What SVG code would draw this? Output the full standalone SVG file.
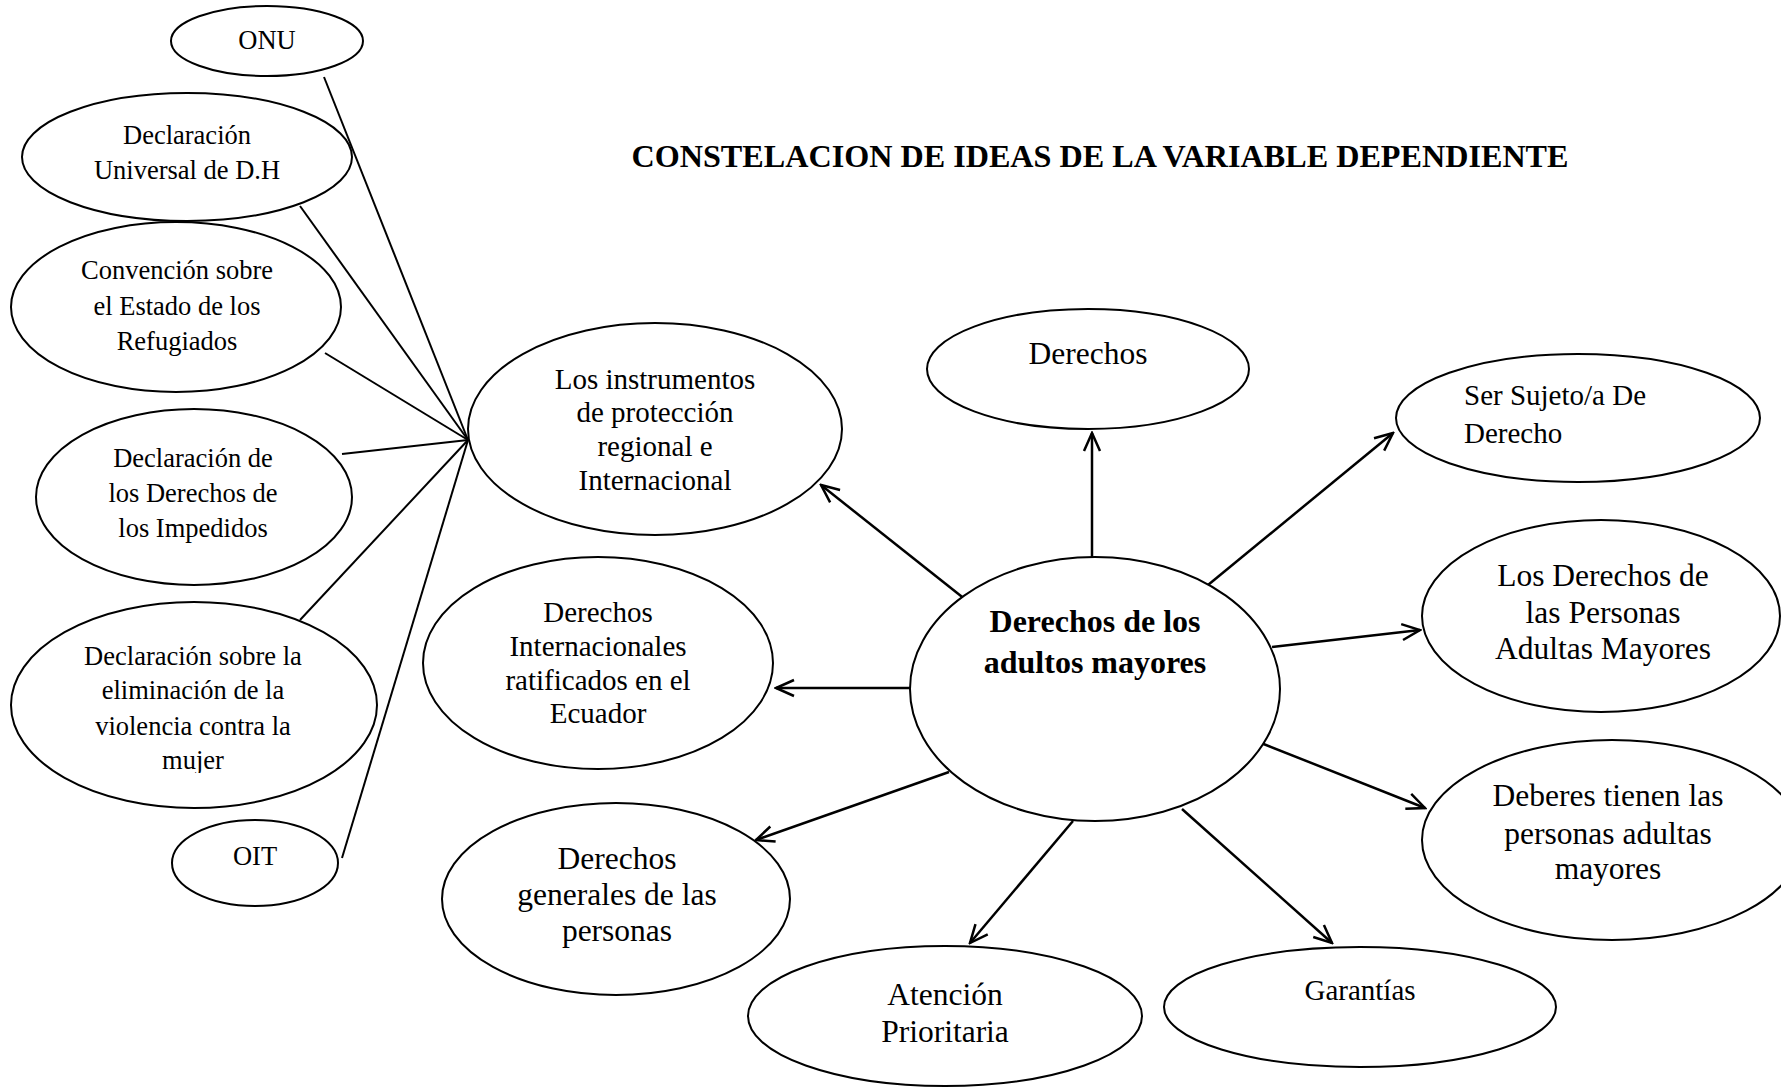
<svg xmlns="http://www.w3.org/2000/svg" width="1781" height="1087" viewBox="0 0 1781 1087">
<style>
.n ellipse{fill:#fff;stroke:#000;stroke-width:2}
text{font-family:"Liberation Serif","Times New Roman",serif;fill:#000;text-anchor:middle}
.s{font-size:26.5px}
.m{font-size:29px}
.l{font-size:31.5px}
.b{font-size:32px;font-weight:bold}
.c line{stroke:#000;stroke-width:2}
.c .a{stroke-width:2.5;marker-end:url(#ah)}
</style>
<defs>
<marker id="ah" markerUnits="userSpaceOnUse" markerWidth="22" markerHeight="22" viewBox="0 0 22 22" refX="20" refY="11" orient="auto">
<path d="M2,3 L20,11 L2,19" fill="none" stroke="#000" stroke-width="2.5"/>
</marker>
<clipPath id="clipMujer"><rect x="0" y="0" width="400" height="773"/></clipPath>
</defs>
<rect width="1781" height="1087" fill="#fff"/>
<text x="1100" y="167" style="font-size:32px;font-weight:bold" textLength="937" lengthAdjust="spacingAndGlyphs">CONSTELACION DE IDEAS DE LA VARIABLE DEPENDIENTE</text>
<g class="c" id="connectors">
<line x1="324" y1="77" x2="468" y2="440"/>
<line x1="300" y1="206" x2="468" y2="440"/>
<line x1="325" y1="353" x2="468" y2="440"/>
<line x1="342" y1="454" x2="468" y2="440"/>
<line x1="300" y1="620" x2="468" y2="440"/>
<line x1="342" y1="858" x2="468" y2="440"/>
<line class="a" x1="966" y1="600" x2="821" y2="485"/>
<line class="a" x1="910" y1="688" x2="776" y2="688"/>
<line class="a" x1="1092" y1="557" x2="1092" y2="433"/>
<line class="a" x1="1208" y1="585" x2="1393" y2="433"/>
<line class="a" x1="1272" y1="647" x2="1420" y2="630"/>
<line class="a" x1="1261" y1="743" x2="1425" y2="808"/>
<line class="a" x1="949" y1="772" x2="756" y2="840"/>
<line class="a" x1="1073" y1="821" x2="970" y2="943"/>
<line class="a" x1="1182" y1="809" x2="1332" y2="943"/>
</g>
<g class="n" id="onu"><ellipse cx="267" cy="41" rx="96" ry="35"/><text class="s" x="267" y="49">ONU</text></g>
<g class="n" id="dudh"><ellipse cx="187" cy="157" rx="165" ry="64"/><text class="s" x="187"><tspan x="187" y="144">Declaración</tspan><tspan x="187" y="179">Universal de D.H</tspan></text></g>
<g class="n" id="refugiados"><ellipse cx="176" cy="307" rx="165" ry="85"/><text class="s"><tspan x="177" y="279">Convención sobre</tspan><tspan x="177" y="315">el Estado de los</tspan><tspan x="177" y="350">Refugiados</tspan></text></g>
<g class="n" id="impedidos"><ellipse cx="194" cy="497" rx="158" ry="88"/><text class="s"><tspan x="193" y="467">Declaración de</tspan><tspan x="193" y="502">los Derechos de</tspan><tspan x="193" y="537">los Impedidos</tspan></text></g>
<g class="n" id="violencia"><ellipse cx="194" cy="705" rx="183" ry="103"/><text class="s" clip-path="url(#clipMujer)"><tspan x="193" y="665">Declaración sobre la</tspan><tspan x="193" y="699">eliminación de la</tspan><tspan x="193" y="735">violencia contra la</tspan><tspan x="193" y="769">mujer</tspan></text></g>
<g class="n" id="oit"><ellipse cx="255" cy="863" rx="83" ry="43"/><text class="s" x="255" y="865">OIT</text></g>
<g class="n" id="instrumentos"><ellipse cx="655" cy="429" rx="187" ry="106"/><text class="m"><tspan x="655" y="389">Los instrumentos</tspan><tspan x="655" y="422">de protección</tspan><tspan x="655" y="456">regional e</tspan><tspan x="655" y="490">Internacional</tspan></text></g>
<g class="n" id="internacionales"><ellipse cx="598" cy="663" rx="175" ry="106"/><text class="m"><tspan x="598" y="622">Derechos</tspan><tspan x="598" y="656">Internacionales</tspan><tspan x="598" y="690">ratificados en el</tspan><tspan x="598" y="723">Ecuador</tspan></text></g>
<g class="n" id="derechos"><ellipse cx="1088" cy="369" rx="161" ry="60"/><text class="l" x="1088" y="364">Derechos</text></g>
<g class="n" id="central"><ellipse cx="1095" cy="689" rx="185" ry="132"/><text class="b"><tspan x="1095" y="632">Derechos de los</tspan><tspan x="1095" y="673">adultos mayores</tspan></text></g>
<g class="n" id="sujeto"><ellipse cx="1578" cy="418" rx="182" ry="64"/><text class="m" style="text-anchor:start"><tspan x="1464" y="405">Ser Sujeto/a De</tspan><tspan x="1464" y="443">Derecho</tspan></text></g>
<g class="n" id="personas"><ellipse cx="1601" cy="616" rx="179" ry="96"/><text class="l"><tspan x="1603" y="586">Los Derechos de</tspan><tspan x="1603" y="623">las Personas</tspan><tspan x="1603" y="659">Adultas Mayores</tspan></text></g>
<g class="n" id="deberes"><ellipse cx="1612" cy="840" rx="190" ry="100"/><text class="l"><tspan x="1608" y="806">Deberes tienen las</tspan><tspan x="1608" y="844">personas adultas</tspan><tspan x="1608" y="879">mayores</tspan></text></g>
<g class="n" id="generales"><ellipse cx="616" cy="899" rx="174" ry="96"/><text class="l"><tspan x="617" y="869">Derechos</tspan><tspan x="617" y="905">generales de las</tspan><tspan x="617" y="941">personas</tspan></text></g>
<g class="n" id="atencion"><ellipse cx="945" cy="1016" rx="197" ry="70"/><text class="l"><tspan x="945" y="1005">Atención</tspan><tspan x="945" y="1042">Prioritaria</tspan></text></g>
<g class="n" id="garantias"><ellipse cx="1360" cy="1007" rx="196" ry="60"/><text class="m" x="1360" y="1000">Garantías</text></g>
</svg>
